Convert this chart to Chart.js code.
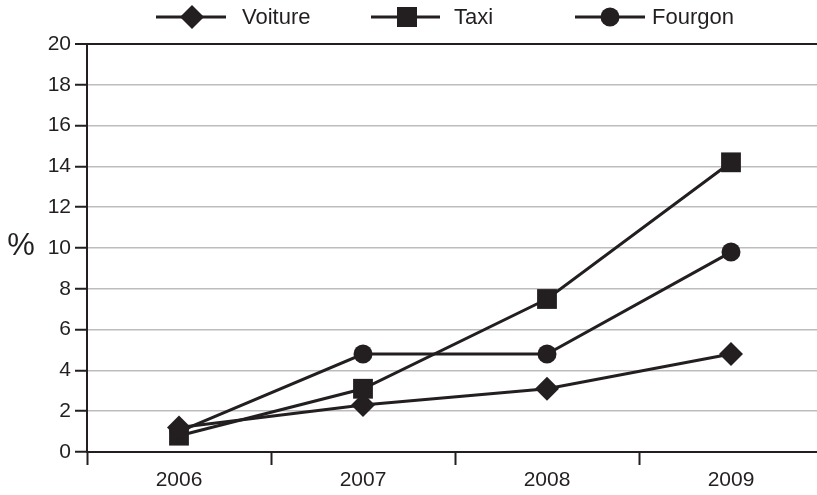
<!DOCTYPE html>
<html>
<head>
<meta charset="utf-8">
<script src="https://cdn.jsdelivr.net/npm/chart.js@4/dist/chart.umd.min.js"></script>
<style>
    body { margin: 0; background: #fff; }
    #wrap { width: 817px; height: 495px; }
</style>
</head>
<body>
<div id="wrap"><canvas id="chart" width="817" height="495"></canvas></div>
<script>
// Chart data
const years = ['2006', '2007', '2008', '2009'];
const voiture = [1.2, 2.3, 3.1, 4.8];
const taxi = [0.8, 3.1, 7.5, 14.2];
const fourgon = [1.0, 4.8, 4.8, 9.8];
const seriesNames = ['Voiture', 'Taxi', 'Fourgon'];
const yTicks = [0, 2, 4, 6, 8, 10, 12, 14, 16, 18, 20];

const INK = '#231f20';
const GRID = '#bdbdbd';
const FONT = '"Liberation Sans", Arial, sans-serif';
const PLOT_RIGHT = 823; // the plot runs a little past the canvas edge

function drawMarker(ctx, style, x, y) {
    ctx.beginPath();
    if (style === 'rectRot') {
        const r = 12;
        ctx.moveTo(x - r, y);
        ctx.lineTo(x, y - r);
        ctx.lineTo(x + r, y);
        ctx.lineTo(x, y + r);
        ctx.closePath();
    } else if (style === 'rect') {
        ctx.rect(x - 10, y - 10, 20, 20);
    } else {
        ctx.arc(x, y, 9.5, 0, Math.PI * 2);
    }
    ctx.fill();
}

// Legend with line + marker, and the "%" axis label
const decor = {
    id: 'decor',
    afterLayout(chart) {
        // stretch the plot area past the right edge, like the original
        const x = chart.scales.x;
        chart.chartArea.right = PLOT_RIGHT;
        chart.chartArea.width = PLOT_RIGHT - chart.chartArea.left;
        x.right = PLOT_RIGHT;
        x.width = PLOT_RIGHT - x.left;
        x.configure();
        chart.scales.y.configure();
    },
    afterDraw(chart) {
        const ctx = chart.ctx;
        ctx.save();
        ctx.fillStyle = INK;
        ctx.strokeStyle = INK;
        ctx.lineWidth = 3;
        const items = [
            { x0: 156, x1: 226, mx: 192, tx: 242 },
            { x0: 371, x1: 440, mx: 407, tx: 454 },
            { x0: 575, x1: 645, mx: 610, tx: 652 }
        ];
        const ly = 17;
        chart.data.datasets.forEach((ds, i) => {
            const it = items[i];
            ctx.beginPath();
            ctx.moveTo(it.x0, ly);
            ctx.lineTo(it.x1, ly);
            ctx.stroke();
            drawMarker(ctx, ds.pointStyle, it.mx, ly);
            ctx.font = '22px ' + FONT;
            ctx.textBaseline = 'middle';
            ctx.textAlign = 'left';
            ctx.fillText(ds.label, it.tx, ly + 1);
        });
        ctx.font = '31px ' + FONT;
        ctx.textAlign = 'center';
        ctx.fillText('%', 21, 246);
        ctx.restore();
    }
};

const lineStyle = {
    borderColor: INK,
    backgroundColor: INK,
    pointBackgroundColor: INK,
    pointBorderColor: INK,
    pointBorderWidth: 0,
    borderWidth: 3,
    tension: 0,
    clip: false
};

new Chart(document.getElementById('chart'), {
    type: 'line',
    data: {
        labels: years,
        datasets: [
            { label: seriesNames[0], data: voiture, pointStyle: 'rectRot', pointRadius: 12, pointHoverRadius: 12, ...lineStyle },
            { label: seriesNames[1], data: taxi, pointStyle: 'rect', pointRadius: 14, pointHoverRadius: 14, ...lineStyle },
            { label: seriesNames[2], data: fourgon, pointStyle: 'circle', pointRadius: 9.5, pointHoverRadius: 9.5, ...lineStyle }
        ]
    },
    options: {
        responsive: false,
        animation: false,
        layout: { autoPadding: false, padding: { top: 44, right: 0, left: 0, bottom: 0 } },
        plugins: {
            legend: { display: false },
            tooltip: { enabled: false }
        },
        scales: {
            x: {
                offset: true,
                grid: {
                    offset: true,
                    drawOnChartArea: false,
                    tickLength: 13,
                    tickColor: INK,
                    tickWidth: 2
                },
                border: { color: INK, width: 2 },
                ticks: { color: INK, font: { family: FONT, size: 21 }, padding: 3 },
                afterFit(scale) {
                    scale.height = 43;
                    scale.paddingLeft = 0;
                    scale.paddingRight = 0;
                }
            },
            y: {
                min: 0,
                max: 20,
                afterBuildTicks(scale) { scale.ticks = yTicks.map(v => ({ value: v })); },
                grid: {
                    color: ctx => (ctx.tick && ctx.tick.value === 20) ? INK : GRID,
                    lineWidth: ctx => (ctx.tick && ctx.tick.value === 20) ? 2 : 1.5,
                    tickLength: 12,
                    tickColor: INK,
                    tickWidth: 2
                },
                border: { color: INK, width: 2 },
                ticks: { color: INK, font: { family: FONT, size: 21 }, padding: 4 },
                afterFit(scale) {
                    scale.width = 87;
                    scale.paddingTop = 0;
                    scale.paddingBottom = 0;
                }
            }
        }
    },
    plugins: [decor]
});
</script>
</body>
</html>
